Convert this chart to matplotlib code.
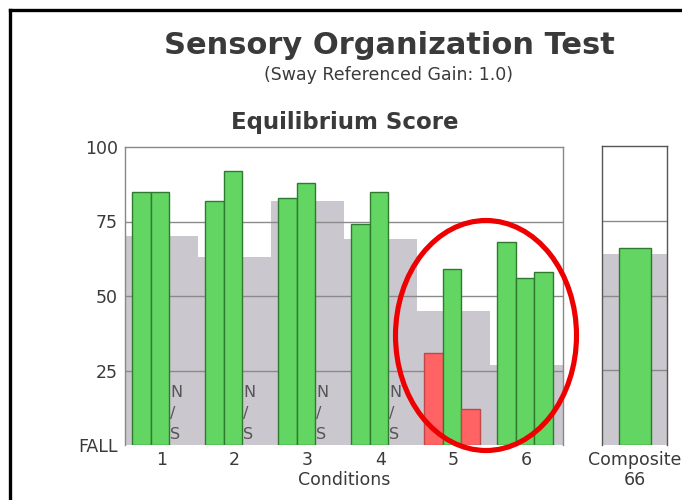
import matplotlib
matplotlib.use("Agg")
import matplotlib.pyplot as plt
from matplotlib.patches import Ellipse
from matplotlib.lines import Line2D

# data
conditions = ["1", "2", "3", "4", "5", "6"]
normal_range = [70, 63, 82, 69, 45, 27]          # gray background per condition
trial_scores = [
    [85, 85, None],
    [82, 92, None],
    [83, 88, None],
    [74, 85, None],
    [31, 59, 12],
    [68, 56, 58],
]
trial_fall = [
    [False, False, False],
    [False, False, False],
    [False, False, False],
    [False, False, False],
    [True, False, True],
    [False, False, False],
]
composite_score = 66
composite_normal = 64
y_ticks = [0, 25, 50, 75, 100]
y_tick_labels = ["FALL", "25", "50", "75", "100"]

plt.rcParams["font.family"] = ["DejaVu Sans"]

GREEN = "#63d563"
GREEN_EDGE = "#2f7a2f"
RED = "#ff6363"
RED_EDGE = "#c04848"
GRAY = "#cbc7ce"
TEXT = "#3a3a3a"

W, H = 682, 500
fig = plt.figure(figsize=(W / 100, H / 100), dpi=100)
fig.patch.set_facecolor("white")


def px_axes(x0, y0, x1, y1):
    return fig.add_axes([x0 / W, 1 - y1 / H, (x1 - x0) / W, (y1 - y0) / H])


# main chart
ax = px_axes(125, 147, 563, 445)
ax.bar(range(6), normal_range, width=1, align="edge", color=GRAY, zorder=1)
for yv in [25, 50, 75]:
    ax.axhline(yv, color="#8a8a8a", lw=1, zorder=2)

bar_w = 0.253
offset = 0.1
for i, scores in enumerate(trial_scores):
    for j, s in enumerate(scores):
        x = i + offset + j * bar_w
        if s is None:
            for ch, yy in zip(["N", "/", "S"], [17.5, 10.5, 3.5]):
                ax.text(x + 0.01, yy, ch, fontsize=11.5, color="#555555",
                        ha="left", va="center", zorder=3)
            continue
        if trial_fall[i][j]:
            fc, ec = RED, RED_EDGE
        else:
            fc, ec = GREEN, GREEN_EDGE
        ax.bar(x, s, width=bar_w, align="edge", color=fc, edgecolor=ec,
               linewidth=1, zorder=4)

ax.set_xlim(0, 6)
ax.set_ylim(0, 100)
ax.set_yticks(y_ticks)
ax.set_yticklabels(y_tick_labels, fontsize=12.5, color=TEXT)
ax.set_xticks([i + 0.5 for i in range(6)])
ax.set_xticklabels(conditions, fontsize=12.5, color=TEXT)
ax.tick_params(axis="x", length=0, pad=4)
ax.tick_params(axis="y", length=0, pad=5)
ax.set_xlabel("Conditions", fontsize=12.5, color=TEXT, labelpad=2)
for side in ["top", "left", "right"]:
    ax.spines[side].set_color("#888888")
    ax.spines[side].set_linewidth(1)
ax.spines["bottom"].set_visible(False)

# composite chart
axc = px_axes(602, 146, 667, 445)
axc.bar(0, composite_normal, width=1, align="edge", color=GRAY, zorder=1)
for yv in [25, 50, 75]:
    axc.axhline(yv, color="#8a8a8a", lw=1, zorder=2)
axc.bar(0.26, composite_score, width=0.49, align="edge", color=GREEN,
        edgecolor=GREEN_EDGE, linewidth=1, zorder=4)
axc.set_xlim(0, 1)
axc.set_ylim(0, 100)
axc.set_yticks([])
axc.set_xticks([0.5])
axc.set_xticklabels([f"Composite\n{composite_score}"], fontsize=12.5,
                    color=TEXT, linespacing=1.15)
axc.tick_params(axis="x", length=0, pad=4)
for side in ["top", "left", "right"]:
    axc.spines[side].set_color("#555555")
    axc.spines[side].set_linewidth(1)
axc.spines["bottom"].set_visible(False)

# titles
fig.text(389 / W, 1 - 45 / H, "Sensory Organization Test", fontsize=22,
         fontweight="bold", color=TEXT, ha="center", va="center")
fig.text(388 / W, 1 - 75 / H, "(Sway Referenced Gain: 1.0)", fontsize=12.5,
         color=TEXT, ha="center", va="center")
fig.text(345 / W, 1 - 123 / H, "Equilibrium Score", fontsize=16.5,
         fontweight="bold", color=TEXT, ha="center", va="center")

# red ellipse highlight
ell = Ellipse((486 / W, 1 - 335.5 / H), 181 / W, 230 / H, transform=fig.transFigure,
              fill=False, edgecolor="#ee0000", linewidth=3.7, zorder=10)
fig.add_artist(ell)

# page border
fig.add_artist(Line2D([9.5 / W, 9.5 / W], [0, 1 - 9.5 / H], transform=fig.transFigure,
                      color="black", lw=2.4))
fig.add_artist(Line2D([9.5 / W, 1], [1 - 9.5 / H, 1 - 9.5 / H], transform=fig.transFigure,
                      color="black", lw=2.4))

fig.savefig("out.png", dpi=100)
